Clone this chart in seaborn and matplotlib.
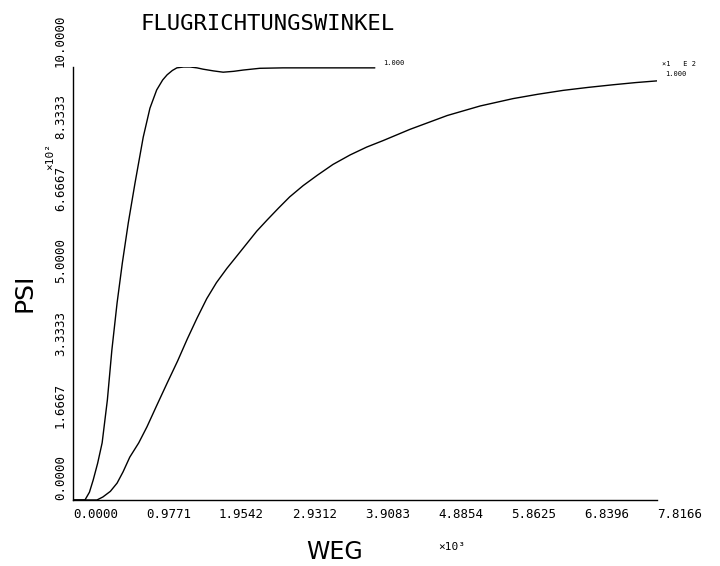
import matplotlib
matplotlib.use("Agg")
import matplotlib.pyplot as plt
import seaborn as sns
import pandas as pd

# ---- data ----
x_ticks = [0.0, 0.9771, 1.9542, 2.9312, 3.9083, 4.8854, 5.8625, 6.8396, 7.8166]
x_tick_labels = ["0.0000", "0.9771", "1.9542", "2.9312", "3.9083",
                 "4.8854", "5.8625", "6.8396", "7.8166"]
y_ticks = [0.0, 1.6667, 3.3333, 5.0, 6.6667, 8.3333, 10.0]
y_tick_labels = ["0.0000", "1.6667", "3.3333", "5.0000", "6.6667", "8.3333", "10.0000"]

fast_x = [0.00, 0.16, 0.22, 0.27, 0.33, 0.39, 0.46, 0.52, 0.59, 0.66, 0.74, 0.83,
          0.94, 1.03, 1.12, 1.20, 1.26, 1.33, 1.39, 1.48, 1.57, 1.66, 1.74, 1.88,
          2.01, 2.15, 2.28, 2.50, 2.81, 3.40, 4.04]
fast_y = [0.00, 0.00, 0.18, 0.46, 0.85, 1.32, 2.31, 3.46, 4.55, 5.47, 6.40, 7.32,
          8.38, 9.05, 9.47, 9.70, 9.82, 9.92, 9.98, 10.00, 10.00, 9.98, 9.95, 9.91,
          9.88, 9.90, 9.93, 9.97, 9.98, 9.98, 9.98]

slow_x = [0.00, 0.32, 0.40, 0.50, 0.59, 0.67, 0.76, 0.88, 0.99, 1.12, 1.26, 1.40,
          1.53, 1.66, 1.79, 1.92, 2.06, 2.20, 2.33, 2.46, 2.60, 2.75, 2.90, 3.08,
          3.27, 3.48, 3.71, 3.93, 4.15, 4.51, 5.01, 5.45, 5.89, 6.22, 6.56, 6.90,
          7.23, 7.53, 7.82]
slow_y = [0.00, 0.00, 0.07, 0.20, 0.39, 0.65, 0.99, 1.32, 1.69, 2.18, 2.70, 3.21,
          3.72, 4.20, 4.65, 5.02, 5.35, 5.65, 5.93, 6.21, 6.47, 6.74, 7.00, 7.26,
          7.50, 7.75, 7.97, 8.15, 8.30, 8.56, 8.88, 9.10, 9.27, 9.37, 9.46, 9.53,
          9.59, 9.64, 9.68]

title = "FLUGRICHTUNGSWINKEL"
x_label = "WEG"
y_label = "PSI"

df = pd.concat([
    pd.DataFrame({"WEG": fast_x, "PSI": fast_y, "curve": "fast"}),
    pd.DataFrame({"WEG": slow_x, "PSI": slow_y, "curve": "slow"}),
])

sns.set_style("white")
plt.rcParams["font.family"] = ["DejaVu Sans Mono", "DejaVu Sans"]
plt.rcParams["text.color"] = "black"
plt.rcParams["xtick.color"] = "black"
plt.rcParams["ytick.color"] = "black"

fig = plt.figure(figsize=(7.2, 5.66), dpi=100)
ax = fig.add_axes([73 / 720, 1 - 500 / 566, (657 - 73) / 720, (500 - 67) / 566])

sns.lineplot(data=df, x="WEG", y="PSI", units="curve", estimator=None,
             color="black", linewidth=1.0, sort=False, ax=ax, legend=False)

ax.set_xlim(0, 7.8166)
ax.set_ylim(0, 10.0)
for s in ["top", "right"]:
    ax.spines[s].set_visible(False)
for s in ["left", "bottom"]:
    ax.spines[s].set_color("black")
    ax.spines[s].set_linewidth(1.0)

ax.set_xticks(x_ticks)
ax.set_xticklabels(x_tick_labels, fontsize=9, ha="left", color="black")
ax.set_yticks(y_ticks)
ax.set_yticklabels(y_tick_labels, fontsize=9, rotation=90, ha="center", va="bottom",
                   color="black")
ax.tick_params(axis="x", direction="in", length=3, width=0.8, pad=6, colors="black")
ax.tick_params(axis="y", direction="in", length=3, width=0.8, pad=9, colors="black")
ax.set_xlabel("")
ax.set_ylabel("")

# axis titles and annotations
fig.text(268 / 720, 1 - 24 / 566, title, fontsize=16, ha="center", va="center",
         family="DejaVu Sans Mono", color="black")
fig.text(335 / 720, 1 - 552 / 566, x_label, fontsize=17, ha="center", va="center",
         family="DejaVu Sans", color="black")
fig.text(452 / 720, 1 - 547 / 566, "×10³", fontsize=8, ha="center", va="center",
         color="black")
fig.text(25 / 720, 1 - 293 / 566, y_label, fontsize=18, ha="center", va="center",
         rotation=90, family="DejaVu Sans", color="black")
fig.text(50 / 720, 1 - 157 / 566, "×10²", fontsize=8, ha="center", va="center",
         rotation=90, color="black")
fig.text(383 / 720, 1 - 63 / 566, "1.000", fontsize=5, ha="left", va="center",
         color="black")
fig.text(662 / 720, 1 - 64 / 566, "×1   E 2", fontsize=5, ha="left", va="center",
         color="black")
fig.text(665 / 720, 1 - 74 / 566, "1.000", fontsize=5, ha="left", va="center",
         color="black")

fig.savefig("out.png", dpi=100, facecolor="white")
